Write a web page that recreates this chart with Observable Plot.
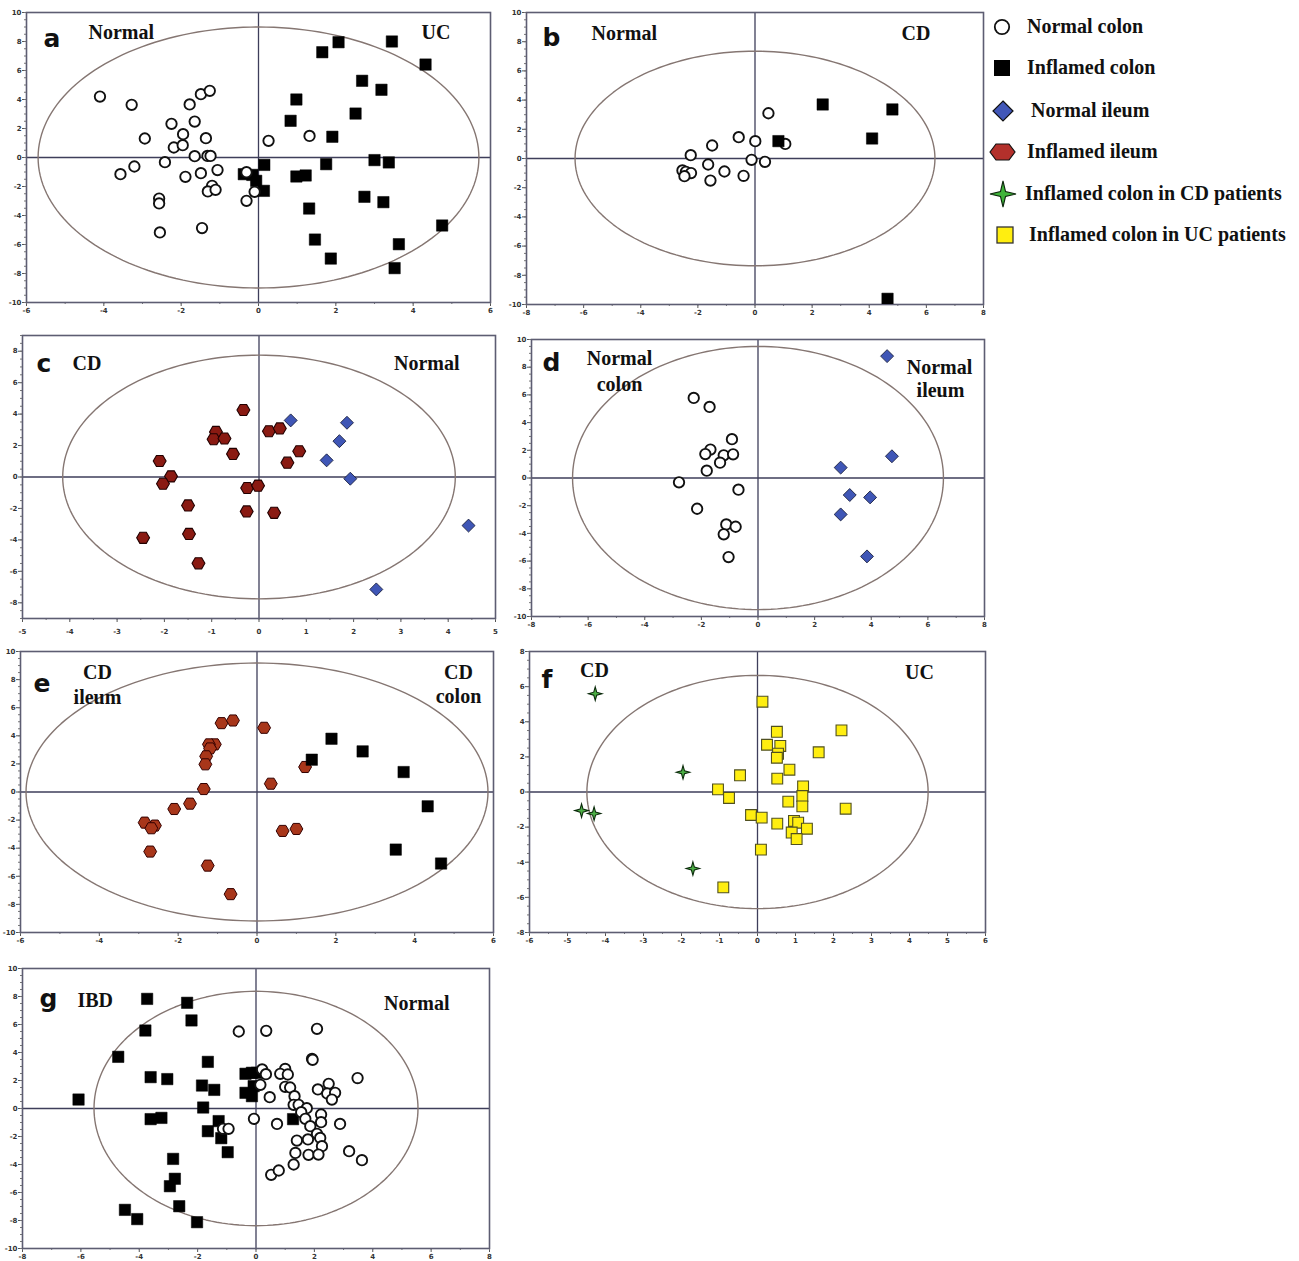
<!DOCTYPE html>
<html><head><meta charset="utf-8">
<script src="https://cdn.jsdelivr.net/npm/d3@7"></script>
<script src="https://cdn.jsdelivr.net/npm/@observablehq/plot@0.6"></script>
<style>
body{margin:0;background:#fff;}
#root{position:relative;width:1299px;height:1261px;overflow:hidden;background:#fff;}
.panel{position:absolute;}
.legend{position:absolute;left:985px;top:8px;font-family:"Liberation Serif","Times New Roman",serif;font-weight:bold;font-size:20px;color:#111;}
.legend .item{position:absolute;left:0;white-space:nowrap;height:30px;}
.legend svg{position:absolute;left:0;top:0;}
.legend span{position:absolute;left:42px;top:3px;}
</style></head><body><div id="root"></div>
<script>
// ---------- DATA ----------
const aNormalColon = [[-4.1,4.2],[-3.28,3.63],[-2.94,1.31],[-3.57,-1.15],[-3.21,-0.62],[-2.42,-0.32],[-2.25,2.32],[-2.19,0.69],[-1.96,0.85],[-1.95,1.61],[-1.89,-1.33],[-1.78,3.66],[-1.65,2.48],[-1.65,0.09],[-1.49,4.37],[-1.49,-1.08],[-1.36,1.33],[-1.32,0.11],[-1.26,4.6],[-1.24,0.11],[-1.2,-1.95],[-1.31,-2.34],[-1.11,-2.23],[-1.06,-0.87],[-2.57,-2.83],[-2.57,-3.17],[-2.55,-5.17],[-1.46,-4.87],[-0.31,-1.01],[-0.1,-2.37],[-0.31,-2.99],[0.26,1.15],[1.32,1.49]];
const aInflamedColon = [[-0.38,-1.15],[-0.16,-1.2],[-0.06,-1.61],[0.15,-0.51],[0.14,-2.3],[1.65,7.26],[2.07,7.95],[3.45,8.0],[4.32,6.41],[2.68,5.29],[3.18,4.67],[0.98,4.0],[0.83,2.53],[2.51,3.03],[1.91,1.43],[3.0,-0.18],[3.37,-0.34],[1.75,-0.46],[0.98,-1.31],[1.22,-1.24],[2.74,-2.71],[3.23,-3.08],[1.31,-3.52],[1.46,-5.66],[1.87,-6.97],[4.75,-4.69],[3.63,-5.98],[3.52,-7.63]];
const bNormalColon = [[0.47,3.1],[-0.57,1.46],[0.01,1.19],[1.06,1.0],[-1.5,0.89],[-2.25,0.23],[-0.12,-0.09],[0.35,-0.23],[-1.64,-0.41],[-1.07,-0.89],[-0.4,-1.19],[-1.56,-1.51],[-2.54,-0.82],[-2.42,-0.91],[-2.24,-1.0],[-2.47,-1.21]];
const bInflamedColon = [[0.82,1.19],[2.37,3.7],[4.81,3.36],[4.1,1.37],[4.64,-9.61]];
const cInflamedIleum = [[-0.33,4.26],[-0.91,2.87],[-0.96,2.4],[-0.73,2.45],[-0.55,1.47],[0.21,2.91],[0.44,3.09],[0.85,1.64],[0.6,0.91],[-2.1,1.02],[-1.86,0.04],[-2.03,-0.43],[-0.25,-0.7],[-0.02,-0.55],[-1.5,-1.81],[-0.26,-2.19],[0.32,-2.28],[-1.48,-3.62],[-2.45,-3.87],[-1.28,-5.49]];
const cNormalIleum = [[0.67,3.6],[1.86,3.45],[1.7,2.28],[1.43,1.06],[1.93,-0.11],[4.43,-3.09],[2.48,-7.15]];
const dNormalColon = [[-2.27,5.78],[-1.71,5.13],[-0.92,2.8],[-1.68,2.05],[-1.86,1.73],[-1.21,1.64],[-0.88,1.71],[-1.34,1.11],[-1.81,0.53],[-2.79,-0.31],[-0.69,-0.84],[-2.15,-2.22],[-1.12,-3.35],[-0.79,-3.52],[-1.21,-4.07],[-1.04,-5.71]];
const dNormalIleum = [[4.56,8.8],[4.73,1.57],[2.92,0.75],[3.24,-1.23],[3.96,-1.4],[2.92,-2.63],[3.85,-5.66]];
const eInflamedIleum = [[-0.9,4.9],[-0.61,5.09],[0.18,4.57],[-1.07,3.39],[-1.22,3.39],[-1.19,3.1],[-1.29,2.54],[-1.31,1.97],[-1.35,0.21],[-1.7,-0.83],[-2.1,-1.21],[-2.85,-2.18],[-2.59,-2.39],[-2.68,-2.58],[-2.71,-4.24],[-1.25,-5.24],[-0.67,-7.27],[0.35,0.59],[1.22,1.78],[0.65,-2.77],[1.0,-2.63]];
const eInflamedColon = [[1.39,2.3],[1.89,3.79],[2.68,2.89],[3.72,1.42],[4.33,-1.02],[3.52,-4.1],[4.67,-5.09]];
const fColonCD = [[-4.27,5.6],[-1.96,1.12],[-4.63,-1.06],[-4.3,-1.23],[-1.7,-4.36]];
const fColonUC = [[0.13,5.14],[2.21,3.51],[0.51,3.43],[0.25,2.69],[0.6,2.62],[0.54,2.18],[0.51,1.95],[1.61,2.26],[0.84,1.27],[-0.46,0.95],[0.52,0.76],[-1.04,0.15],[-0.75,-0.34],[1.2,0.32],[1.18,-0.23],[1.18,-0.82],[0.81,-0.55],[2.32,-0.95],[-0.17,-1.31],[0.11,-1.46],[0.52,-1.8],[0.96,-1.65],[1.07,-1.75],[1.3,-2.09],[0.9,-2.31],[1.03,-2.68],[0.09,-3.28],[-0.9,-5.43]];
const gIBD = [[-3.73,7.83],[-2.36,7.55],[-2.21,6.29],[-3.79,5.57],[-4.72,3.69],[-6.08,0.64],[-3.61,2.24],[-3.04,2.1],[-1.65,3.33],[-1.85,1.64],[-1.43,1.33],[-1.81,0.07],[-3.61,-0.76],[-3.24,-0.67],[-1.28,-0.9],[-1.65,-1.62],[-1.19,-2.12],[-0.97,-3.12],[-2.84,-3.6],[-2.78,-5.02],[-2.95,-5.55],[-2.63,-6.98],[-4.49,-7.24],[-4.07,-7.9],[-2.02,-8.12],[-0.36,2.48],[-0.14,2.55],[0.03,2.55],[-0.08,1.6],[-0.36,1.12],[-0.14,0.88],[1.27,-0.76]];
const gNormal = [[-0.59,5.5],[0.35,5.55],[2.09,5.69],[1.92,3.55],[1.94,3.48],[0.21,2.79],[0.34,2.45],[1.0,2.83],[0.83,2.48],[1.09,2.43],[0.15,1.69],[1.0,1.55],[1.17,1.5],[3.48,2.17],[2.49,1.76],[2.12,1.36],[2.44,1.07],[2.71,1.12],[2.6,0.64],[0.47,0.81],[1.32,0.88],[1.29,0.26],[1.46,0.26],[1.74,0.02],[1.55,-0.26],[1.69,-0.74],[2.23,-0.43],[2.23,-0.98],[1.86,-1.26],[2.09,-1.81],[2.2,-2.1],[2.26,-2.69],[2.88,-1.1],[-0.07,-0.74],[0.72,-1.1],[-1.13,-1.45],[-0.94,-1.45],[1.4,-2.29],[1.78,-2.21],[1.35,-3.17],[1.8,-3.31],[2.14,-3.29],[1.29,-4.0],[3.19,-3.05],[3.63,-3.69],[0.52,-4.74],[0.78,-4.43]];
// confidence ellipse semi-axes [rx, ry] per panel
const ellipseA = [5.7, 9.0];
const ellipseB = [6.3, 7.35];
const ellipseC = [4.15, 7.75];
const ellipseD = [6.55, 9.5];
const ellipseE = [5.86, 9.18];
const ellipseF = [4.49, 6.64];
const ellipseG = [5.55, 8.37];
const legendLabels = ["Normal colon","Inflamed colon","Normal ileum","Inflamed ileum","Inflamed colon in CD patients","Inflamed colon in UC patients"];

// ---------- SYMBOLS ----------
const rad = s => Math.sqrt(s / Math.PI);
const hexSym = {draw(c, s){const r = rad(s)*1.15, h = r*0.86; c.moveTo(r,0); c.lineTo(r/2,h); c.lineTo(-r/2,h); c.lineTo(-r,0); c.lineTo(-r/2,-h); c.lineTo(r/2,-h); c.closePath();}};
const diaSym = {draw(c, s){const r = rad(s)*1.2; c.moveTo(0,-r); c.lineTo(r,0); c.lineTo(0,r); c.lineTo(-r,0); c.closePath();}};
const starSym = {draw(c, s){const r = rad(s)*1.25, i = r*0.22; c.moveTo(0,-r); c.lineTo(i,-i); c.lineTo(r,0); c.lineTo(i,i); c.lineTo(0,r); c.lineTo(-i,i); c.lineTo(-r,0); c.lineTo(-i,-i); c.closePath();}};
const sqSym = {draw(c, s){const r = rad(s)*0.95; c.rect(-r,-r,2*r,2*r);}};

const STY = {
  normalColon: {symbol:"circle", r:5.2, fill:"white", stroke:"#111", strokeWidth:1.9},
  inflamedColon: {symbol:sqSym, r:6, fill:"#000", stroke:"#000", strokeWidth:0.5},
  normalIleum: {symbol:diaSym, r:5.4, fill:"#3f56b6", stroke:"#1a2040", strokeWidth:0.9},
  inflamedIleumC: {symbol:hexSym, r:5.6, fill:"#8a1a12", stroke:"#200", strokeWidth:1.1},
  inflamedIleumE: {symbol:hexSym, r:5.6, fill:"#a8361a", stroke:"#300", strokeWidth:1},
  colonCD: {symbol:starSym, r:5.4, fill:"#4caf45", stroke:"#0b2a0b", strokeWidth:1.1},
  colonUC: {symbol:sqSym, r:5.7, fill:"#ffee10", stroke:"#505020", strokeWidth:1.1}
};

const ellipsePts = ([rx, ry]) => d3.range(0, 361, 2).map(t => [rx*Math.cos(t*Math.PI/180), ry*Math.sin(t*Math.PI/180)]);

const ML = 22, MT = 6, MR = 8, MB = 18;
function panel(cfg) {
  const [fx0, fx1, fy0, fy1] = cfg.box;
  const width = fx1 - fx0 + ML + MR, height = fy1 - fy0 + MT + MB;
  const [x0, x1] = cfg.x, [y0, y1] = cfg.y;
  const marks = [
    Plot.ruleX([0], {stroke:"#3e3e5a", strokeWidth:1.3}),
    Plot.ruleY([0], {stroke:"#3e3e5a", strokeWidth:1.3}),
    Plot.line(ellipsePts(cfg.ellipse), {x: d=>d[0], y: d=>d[1], curve:"linear-closed", stroke:"#857672", strokeWidth:1.4}),
    Plot.axisX({ticks: cfg.xTicks, tickSize:4, tickPadding:cfg.xPad ?? 2, tickFormat: d=>String(d), label:null, stroke:"#555", fill:"#333"}),
    Plot.axisX({ticks: cfg.xMinor, tickSize:2, tickFormat: ()=>"", label:null, stroke:"#777"}),
    Plot.axisY({ticks: cfg.yTicks, tickSize:4, tickPadding:1, tickFormat: d=>String(d), label:null, stroke:"#555", fill:"#333"}),
    Plot.axisY({ticks: cfg.yMinor, tickSize:2, tickFormat: ()=>"", label:null, stroke:"#777"}),
    Plot.frame({stroke:"#5d5d72", strokeWidth:1.6})
  ];
  for (const s of cfg.series) {
    marks.push(Plot.dot(s.data, {x: d=>d[0], y: d=>d[1], ...s.style, clip:true}));
  }
  for (const l of cfg.labels) {
    const letter = l.kind === "letter";
    marks.push(Plot.text([l.text], {
      frameAnchor: l.right ? "top-right" : "top-left",
      dx: l.dx, dy: l.dy, textAnchor: l.anchor || "start", lineAnchor: "middle",
      fontFamily: letter ? "DejaVu Sans, Liberation Sans, sans-serif" : "Liberation Serif, Times New Roman, serif",
      fontWeight: "bold", fontSize: letter ? 25 : 20, fill:"#111"
    }));
  }
  const svg = Plot.plot({
    width, height, marginLeft:ML, marginTop:MT, marginRight:MR, marginBottom:MB,
    x: {domain:[x0, x1], label:null},
    y: {domain:[y0, y1], label:null},
    style: {fontFamily:"DejaVu Sans, sans-serif", fontSize:"7px", fontWeight:"bold", background:"transparent", overflow:"visible"},
    marks
  });
  const div = document.createElement("div");
  div.className = "panel";
  div.style.left = (fx0 - ML) + "px";
  div.style.top = (fy0 - MT) + "px";
  div.appendChild(svg);
  document.getElementById("root").appendChild(div);
}

const r2 = (a,b) => d3.range(a, b + 0.001, 2);
const r1 = (a,b) => d3.range(a, b + 0.001, 1);
const rh = (a,b) => d3.range(a, b + 0.001, 0.5);

panel({box:[26,490,12,302], x:[-6,6], y:[-10,10], xTicks:r2(-6,6), xMinor:r1(-6,6), yTicks:r2(-10,10), yMinor:rh(-10,10), ellipse:ellipseA,
  series:[{data:aInflamedColon, style:STY.inflamedColon},{data:aNormalColon, style:STY.normalColon}],
  labels:[{text:"a", kind:"letter", dx:17, dy:26},{text:"Normal", dx:62, dy:20},{text:"UC", right:true, anchor:"end", dx:-40, dy:20}]});

panel({box:[526,983,12,304], x:[-8,8], y:[-10,10], xTicks:r2(-8,8), xMinor:r1(-8,8), yTicks:r2(-10,10), yMinor:rh(-10,10), ellipse:ellipseB,
  series:[{data:bNormalColon, style:STY.normalColon},{data:bInflamedColon, style:STY.inflamedColon}],
  labels:[{text:"b", kind:"letter", dx:16, dy:25},{text:"Normal", dx:65, dy:21},{text:"CD", right:true, anchor:"end", dx:-53, dy:21}]});

panel({box:[22,495,335,618], x:[-5,5], y:[-9,9], xTicks:r1(-5,5), xMinor:rh(-5,5), xPad:7, yTicks:r2(-8,8), yMinor:rh(-9,9), ellipse:ellipseC,
  series:[{data:cNormalIleum, style:STY.normalIleum},{data:cInflamedIleum, style:STY.inflamedIleumC}],
  labels:[{text:"c", kind:"letter", dx:14, dy:28},{text:"CD", dx:50, dy:28},{text:"Normal", right:true, anchor:"end", dx:-36, dy:28}]});

panel({box:[531,984,339,616], x:[-8,8], y:[-10,10], xTicks:r2(-8,8), xMinor:r1(-8,8), yTicks:r2(-10,10), yMinor:rh(-10,10), ellipse:ellipseD,
  series:[{data:dNormalColon, style:STY.normalColon},{data:dNormalIleum, style:STY.normalIleum}],
  labels:[{text:"d", kind:"letter", dx:11, dy:23},{text:"Normal", anchor:"middle", dx:88, dy:19},{text:"colon", anchor:"middle", dx:88, dy:45},
          {text:"Normal", right:true, anchor:"middle", dx:-45, dy:28},{text:"ileum", right:true, anchor:"middle", dx:-44, dy:51}]});

panel({box:[20,493,651,932], x:[-6,6], y:[-10,10], xTicks:r2(-6,6), xMinor:r1(-6,6), yTicks:r2(-10,10), yMinor:rh(-10,10), ellipse:ellipseE,
  series:[{data:eInflamedIleum, style:STY.inflamedIleumE},{data:eInflamedColon, style:STY.inflamedColon}],
  labels:[{text:"e", kind:"letter", dx:13, dy:32},{text:"CD", anchor:"middle", dx:77, dy:21},{text:"ileum", anchor:"middle", dx:77, dy:46},
          {text:"CD", right:true, anchor:"middle", dx:-35, dy:21},{text:"colon", right:true, anchor:"middle", dx:-35, dy:45}]});

panel({box:[529,985,651,932], x:[-6,6], y:[-8,8], xTicks:r1(-6,6), xMinor:rh(-6,6), yTicks:r2(-8,8), yMinor:rh(-8,8), ellipse:ellipseF,
  series:[{data:fColonUC, style:STY.colonUC},{data:fColonCD, style:STY.colonCD}],
  labels:[{text:"f", kind:"letter", dx:12, dy:28},{text:"CD", anchor:"middle", dx:65, dy:19},{text:"UC", right:true, anchor:"middle", dx:-66, dy:21}]});

panel({box:[22,489,968,1248], x:[-8,8], y:[-10,10], xTicks:r2(-8,8), xMinor:r1(-8,8), yTicks:r2(-10,10), yMinor:rh(-10,10), ellipse:ellipseG,
  series:[{data:gIBD, style:STY.inflamedColon},{data:gNormal, style:STY.normalColon}],
  labels:[{text:"g", kind:"letter", dx:17, dy:30},{text:"IBD", dx:55, dy:32},{text:"Normal", right:true, anchor:"end", dx:-40, dy:35}]});

// ---------- LEGEND ----------
const legendIcons = [
  '<circle cx="17" cy="15" r="7.2" fill="#fff" stroke="#111" stroke-width="1.8"/>',
  '<rect x="9" y="7" width="16" height="16" fill="#000"/>',
  '<path d="M18,5 L28,15 L18,25 L8,15 Z" fill="#4157b8" stroke="#111" stroke-width="1.2"/>',
  '<path d="M5,15 L11,7 L24,7 L30,15 L24,23 L11,23 Z" fill="#b3302b" stroke="#111" stroke-width="1.2"/>',
  '<path d="M18,2 L20.5,12.5 L31,15 L20.5,17.5 L18,28 L15.5,17.5 L5,15 L15.5,12.5 Z" fill="#3fb43a" stroke="#0d250d" stroke-width="1.1"/>',
  '<rect x="12" y="7" width="16" height="16" fill="#ffee10" stroke="#333" stroke-width="1.3"/>'
];
const legendY = [4, 45, 88, 129, 171, 212];
const legendX = [42, 42, 46, 42, 40, 44];
const leg = document.createElement("div");
leg.className = "legend";
legendLabels.forEach((t, i) => {
  const it = document.createElement("div");
  it.className = "item";
  it.style.top = legendY[i] + "px";
  it.innerHTML = `<svg width="36" height="30">${legendIcons[i]}</svg><span style="left:${legendX[i]}px">${t}</span>`;
  leg.appendChild(it);
});
document.getElementById("root").appendChild(leg);
</script></body></html>
